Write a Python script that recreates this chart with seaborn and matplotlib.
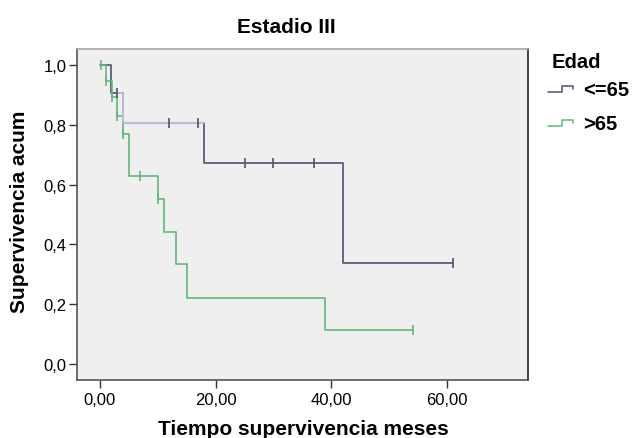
import numpy as np
import pandas as pd
import matplotlib
matplotlib.use("Agg")
import matplotlib.pyplot as plt
from matplotlib.lines import Line2D
from matplotlib.ticker import FuncFormatter
import seaborn as sns

# Kaplan-Meier curves
blue_t = [0.0, 1.9, 4.0, 18.0, 42.1, 61.1]
blue_s = [1.0, 0.909, 0.808, 0.673, 0.337, 0.337]
blue_cens_t = [3.0, 12.0, 17.0, 25.1, 30.0, 37.0, 61.1]
blue_cens_s = [0.909, 0.808, 0.808, 0.673, 0.673, 0.673, 0.337]

green_t = [0.0, 1.1, 2.0, 3.0, 3.9, 5.0, 10.0, 11.1, 13.1, 15.0, 39.0, 54.1]
green_s = [1.0, 0.949, 0.893, 0.832, 0.770, 0.630, 0.553, 0.443, 0.333, 0.222, 0.113, 0.113]
green_cens_t = [0.1, 1.0, 2.0, 3.0, 4.0, 6.9, 10.0, 54.1]
green_cens_s = [1.0, 0.949, 0.893, 0.832, 0.770, 0.630, 0.553, 0.113]

groups = ["<=65", ">65"]
colors = ["#4b5273", "#5fb878"]
light_blue = "#b9bdd6"

sns.set_style("white")
plt.rcParams["font.family"] = ["Liberation Sans", "DejaVu Sans"]

fig = plt.figure(figsize=(6.35, 4.39), dpi=100)
ax = fig.add_axes([0.1217, 0.1328, 0.7102, 0.7533])
ax.set_facecolor("#efefef")

blue = pd.DataFrame({"t": blue_t, "s": blue_s})
green = pd.DataFrame({"t": green_t, "s": green_s})

sns.lineplot(data=blue, x="t", y="s", ax=ax, color=colors[0], lw=1.2,
             drawstyle="steps-post", estimator=None)
# the 0.81 stretch is drawn much lighter in the original
ax.hlines(blue_s[2], blue_t[2], blue_t[3], color=light_blue, lw=1.6, zorder=3)
ax.vlines(blue_t[2], blue_s[2], blue_s[1], color=light_blue, lw=1.4, zorder=3)
ax.hlines(blue_s[1], blue_cens_t[0], blue_t[2], color=light_blue, lw=1.4, zorder=3)

sns.lineplot(data=green, x="t", y="s", ax=ax, color=colors[1], lw=1.2,
             drawstyle="steps-post", estimator=None)

sns.scatterplot(x=blue_cens_t, y=blue_cens_s, ax=ax, marker="|", s=45,
                color=colors[0], linewidth=1.2, zorder=4)
sns.scatterplot(x=green_cens_t, y=green_cens_s, ax=ax, marker="|", s=45,
                color=colors[1], linewidth=1.2, zorder=4)

ax.set_xlim(-3.93, 74.1)
ax.set_ylim(-0.053, 1.055)
ax.set_xticks([0, 20, 40, 60])
ax.set_yticks([0, 0.2, 0.4, 0.6, 0.8, 1.0])
ax.xaxis.set_major_formatter(FuncFormatter(lambda v, p: f"{v:.2f}".replace(".", ",")))
ax.yaxis.set_major_formatter(FuncFormatter(lambda v, p: f"{v:.1f}".replace(".", ",")))
ax.tick_params(axis="both", which="major", direction="out", length=5.5, width=1,
               color="#333333", labelsize=12, labelcolor="black",
               bottom=True, left=True)
ax.tick_params(axis="x", pad=3)
ax.tick_params(axis="y", pad=2)
ax.set_xlabel("")
ax.set_ylabel("")

for side in ["left", "bottom"]:
    ax.spines[side].set_color("#555555")
    ax.spines[side].set_linewidth(1.2)
ax.spines["top"].set_color("#a8a8a8")
ax.spines["top"].set_linewidth(1.2)
ax.spines["right"].set_color("#222222")
ax.spines["right"].set_linewidth(1.2)

fig.text(286 / 635, 1 - 32.7 / 439, "Estadio III", ha="center", va="baseline",
         fontsize=15, fontweight="bold", color="black")
fig.text(303.3 / 635, 1 - 435 / 439, "Tiempo supervivencia meses", ha="center",
         va="baseline", fontsize=15, fontweight="bold", color="black")
fig.text(19.5 / 635, 1 - 212 / 439, "Supervivencia acum", ha="center", va="center",
         rotation=90, fontsize=15, fontweight="bold", color="black")

# legend
fig.text(551.7 / 635, 1 - 62.5 / 439, "Edad", ha="left", va="center",
         fontsize=14.5, fontweight="bold", color="black")
for i, (g, c) in enumerate(zip(groups, colors)):
    dy = 34 * i
    xs = np.array([548.3, 561.7, 561.7, 573.3, 573.3]) / 635
    ys = 1 - (np.array([92.7, 92.7, 87.3, 87.3, 90.0]) + dy) / 439
    fig.add_artist(Line2D(xs, ys, color=c, lw=1.1))
    fig.text(582.7 / 635, 1 - (91 + dy) / 439, g, ha="left", va="center",
             fontsize=14.5, fontweight="bold", color="black")

fig.savefig("out.png", dpi=100)
